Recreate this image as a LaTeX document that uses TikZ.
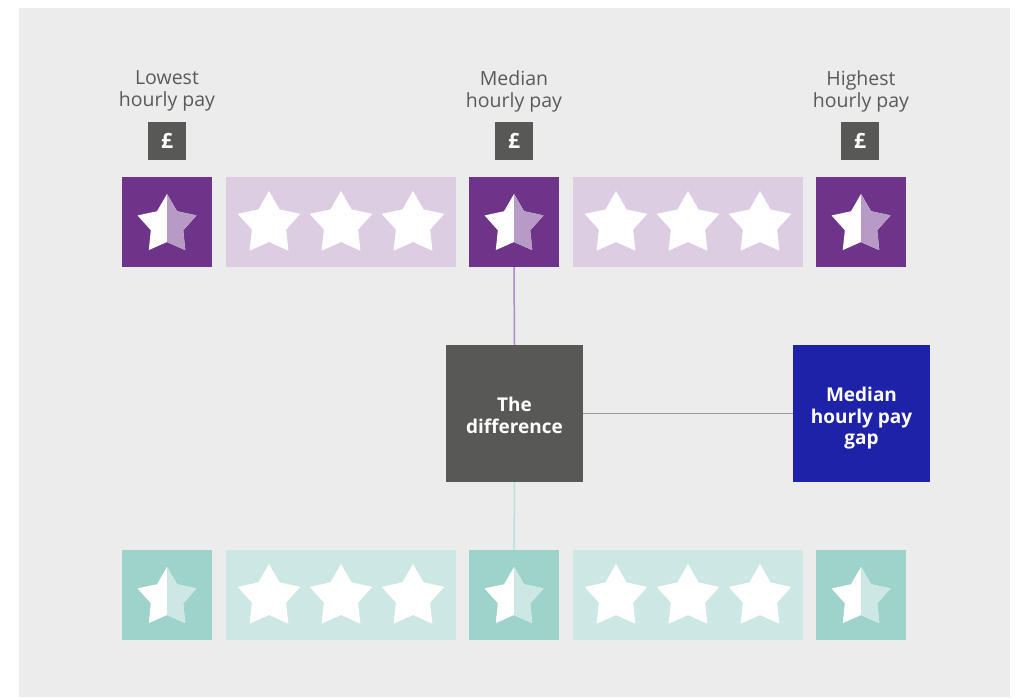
\documentclass[tikz,border=0pt]{standalone}
\usepackage{fontspec}
\setmainfont{Open Sans}
\definecolor{bggray}{HTML}{ECECEC}
\definecolor{txtgray}{HTML}{5A5A5A}
\definecolor{boxgray}{HTML}{585856}
\definecolor{purpdark}{HTML}{6E3489}
\definecolor{purplight}{HTML}{DCCDE3}
\definecolor{purphalf}{HTML}{B89AC6}
\definecolor{purpline}{HTML}{A98BC6}
\definecolor{tealdark}{HTML}{9DD3CA}
\definecolor{teallight}{HTML}{CDE8E4}
\definecolor{tealline}{HTML}{B8E2DA}
\definecolor{gapblue}{HTML}{1E22A8}
\newcommand\fullstar[4]{% x, y, R, r
  \fill[white] (#1,#2) +(-90:#3) -- +(-54:#4) -- +(-18:#3) -- +(18:#4) -- +(54:#3) -- +(90:#4) -- +(126:#3) -- +(162:#4) -- +(198:#3) -- +(234:#4) -- cycle;}
\newcommand\halfstar[3]{% x, y, colour
  \fullstar{#1}{#2}{31}{17}
  \fill[#3] (#1,#2) +(-90:31) -- +(-54:17) -- +(-18:31) -- +(18:17) -- +(54:31) -- +(90:17) -- cycle;}
\tikzset{
  x=1pt, y=-1pt,
  label/.style={text=txtgray, font=\fontsize{19.5}{22}\selectfont, align=center, inner sep=0},
  pound/.style={fill=boxgray, text=white, minimum size=38pt, inner sep=0, font=\fontsize{21}{21}\selectfont\bfseries},
  sq/.style={minimum size=90pt, inner sep=0},
  strip/.style={minimum width=230pt, minimum height=90pt, inner sep=0},
  bigbox/.style={minimum size=137pt, inner sep=0, text=white, font=\fontsize{19}{21.5}\selectfont\bfseries},
}
\newcommand\boxtext[2]{\raisebox{#1}[0pt][0pt]{\parbox{130pt}{\centering #2}}}
\begin{document}
\begin{tikzpicture}
\useasboundingbox (0,0) rectangle (1015,697);
\fill[white] (0,0) rectangle (1015,697);
\fill[bggray] (19,8) rectangle (1010,697);

% labels
\node[label] (l1) at (167,91) {Lowest\\hourly pay};
\node[label] (l2) at (514,91) {Median\\hourly pay};
\node[label] (l3) at (861,91) {Highest\\hourly pay};
\node[pound] (p1) at (167,141) {£};
\node[pound] (p2) at (514,141) {£};
\node[pound] (p3) at (860,141) {£};

% top row
\node[sq, fill=purpdark] (t1) at (167,222) {};
\node[strip, fill=purplight] (t2) at (341,222) {};
\node[sq, fill=purpdark] (t3) at (514,222) {};
\node[strip, fill=purplight] (t4) at (688,222) {};
\node[sq, fill=purpdark] (t5) at (861,222) {};

% bottom row
\node[sq, fill=tealdark] (b1) at (167,595) {};
\node[strip, fill=teallight] (b2) at (341,595) {};
\node[sq, fill=tealdark] (b3) at (514,595) {};
\node[strip, fill=teallight] (b4) at (688,595) {};
\node[sq, fill=tealdark] (b5) at (861,595) {};

% centre boxes
\node[bigbox, fill=boxgray] (diff) at (514.5,413.5) {\boxtext{-6pt}{The\\difference}};
\node[bigbox, fill=gapblue] (gap) at (861.5,413.5) {\boxtext{-9pt}{Median\\hourly pay\\gap}};

% connectors
\draw[purpline, line width=1.5pt] (t3.south) -- (diff.north);
\draw[tealline, line width=1.5pt] (diff.south) -- (b3.north);
\draw[black!40, line width=1.5pt] (diff.east) -- (gap.west);

% stars
\foreach \cx in {167,514,861}{
  \halfstar{\cx}{225}{purphalf}
  \halfstar{\cx}{598}{teallight}
}
\foreach \cx in {269,341,413,616,688,760}{
  \fullstar{\cx}{224}{33}{18}
  \fullstar{\cx}{597}{33}{18}
}
\end{tikzpicture}
\end{document}
